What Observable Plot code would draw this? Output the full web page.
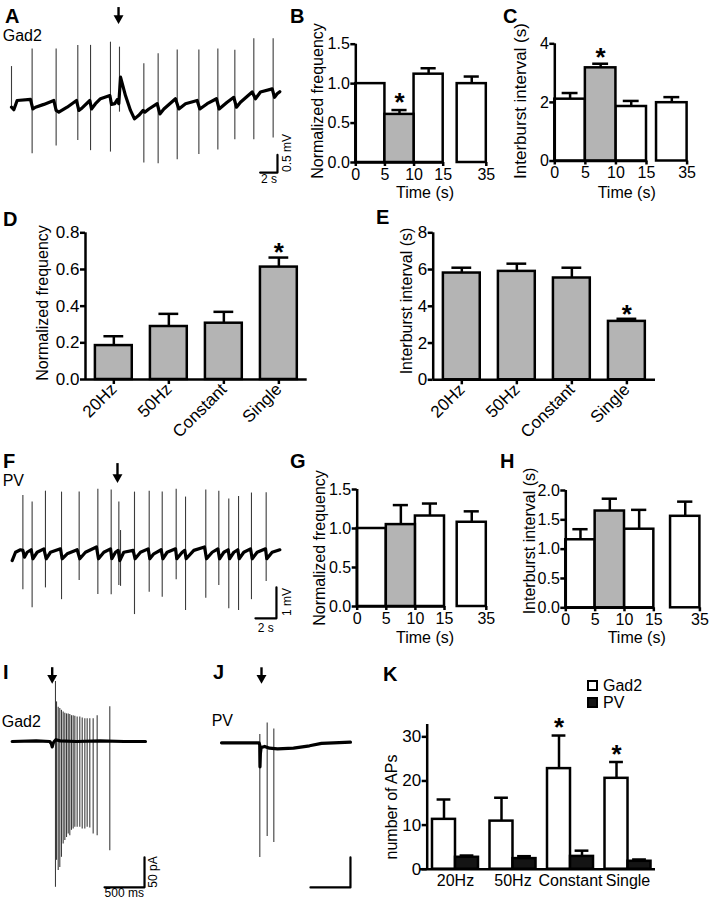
<!DOCTYPE html>
<html><head><meta charset="utf-8">
<script src="https://cdn.jsdelivr.net/npm/d3@7"></script>
<script src="https://cdn.jsdelivr.net/npm/@observablehq/plot@0.6"></script>
<style>
body{margin:0;background:#fff;}
#fig{position:relative;width:711px;height:900px;overflow:hidden;background:#fff;font-family:"Liberation Sans",Arial,sans-serif;color:#000;}
</style></head><body><div id="fig"></div>
<script>
// ---------- DATA ----------
// A: Gad2 cell-attached trace (time s, mV)
const aSpikeT = [0, 2.38, 5.15, 7.65, 9.12, 11.42, 12.46, 15.27, 16.92, 19.12, 21.62, 23.81, 25.77, 27.96, 30.19];
const aSpikeHi = [0.96, 1.46, 1.46, 1.56, 1.56, 1.65, 1.51, 1.04, 1.32, 1.43, 1.43, 1.46, 1.42, 1.75, 1.75];
const aSpikeLo = [-0.24, -1.51, -1.29, -1.13, -1.42, -1.46, -0.33, -1.77, -1.79, -1.68, -1.53, -1.40, -1.11, -1.11, -1.06];
const aBaseT = [0, 0.27, 0.65, 2.19, 2.46, 2.77, 3.73, 4.88, 5.15, 5.46, 6.42, 7.5, 7.77, 8.15, 9.04, 9.23, 9.69, 10.27, 11.35, 11.54, 11.92, 12.19, 12.38, 12.58, 13.15, 13.73, 14.19, 14.69, 15.19, 15.38, 15.85, 16.81, 17.12, 17.58, 18.92, 19.31, 20.08, 21.42, 21.73, 22.58, 23.65, 23.96, 24.88, 25.65, 25.96, 26.42, 27.77, 28.15, 28.73, 30.08, 30.35, 30.65, 30.96];
const aBaseV = [-0.19, -0.26, 0, 0.03, -0.24, -0.19, -0.11, 0, -0.28, -0.33, -0.19, 0, -0.28, -0.21, 0, -0.24, -0.09, 0.05, 0.14, -0.11, -0.09, 0.02, -0.09, 0.66, 0.14, -0.28, -0.52, -0.42, -0.28, -0.33, -0.24, -0.09, -0.38, -0.24, 0.05, -0.24, -0.09, 0, -0.24, -0.09, 0.05, -0.24, -0.05, 0.09, -0.19, -0.05, 0.24, 0.05, 0.24, 0.33, 0.09, 0.19, 0.25];
const aStim = 12.35;

// F: PV cell-attached trace (time s, mV)
const fSpikeT = [1.02, 1.90, 3.17, 4.70, 6.38, 8.16, 9.43, 10.16, 10.32, 11.65, 13.05, 14.29, 15.62, 16.51, 18.44, 19.68, 20.63, 21.56, 22.79, 24.19];
const fSpikeHi = [1.88, 1.67, 2.02, 1.99, 1.99, 2.08, 2.06, 1.67, 0.75, 1.99, 2.02, 1.99, 2.08, 1.83, 2.06, 2.02, 1.77, 1.85, 1.96, 1.97];
const fSpikeLo = [-1.16, -1.74, -1.10, -1.48, -0.86, -1.31, -1.32, -1.02, -1.05, -1.96, -1.24, -1.40, -0.84, -1.83, -1.43, -1.02, -1.77, -1.83, -1.48, -0.89];
const fBaseT = [0, 0.32, 0.79, 1.02, 1.17, 1.43, 1.81, 1.97, 2.38, 3.02, 3.24, 3.65, 4.60, 4.76, 5.24, 6.19, 6.44, 6.98, 8.03, 8.22, 8.73, 9.37, 9.49, 9.84, 10.10, 10.25, 10.63, 11.52, 11.71, 12.22, 12.95, 13.11, 13.49, 14.19, 14.35, 14.76, 15.56, 15.68, 16.19, 16.44, 16.57, 17.30, 18.32, 18.51, 19.05, 19.59, 19.75, 20.16, 20.57, 20.70, 21.11, 21.49, 21.62, 22.06, 22.70, 22.86, 23.33, 24.13, 24.25, 24.76, 25.49];
const fBaseV = [-0.22, 0.05, 0.13, 0.11, -0.11, 0.05, 0.13, -0.16, 0.05, 0.16, -0.16, 0.05, 0.16, -0.16, 0, 0.13, -0.16, 0.05, 0.22, -0.16, 0.05, 0.16, -0.16, 0.05, 0.11, -0.22, 0.05, 0.11, -0.16, 0.05, 0.16, -0.16, 0, 0.13, -0.16, 0.05, 0.16, -0.16, 0.05, 0.11, -0.16, 0.11, 0.22, -0.16, 0.05, 0.16, -0.16, 0.05, 0.13, -0.16, 0.05, 0.13, -0.16, 0.05, 0.16, -0.16, 0.05, 0.16, -0.16, 0.05, 0.13];
const fStim = 10.03;

// I: Gad2 whole-cell current (ms, pA)
const iSpikeT = [541, 554, 575, 595, 616, 637, 658, 679, 700, 720, 741, 762, 783, 812, 845, 875, 908, 937, 970, 1012, 1062, 1220];
const iSpikeHi = [100, 66, 57, 55, 52, 49, 47, 46, 46, 45, 43, 43, 42, 41, 41, 39, 38, 38, 38, 38, 43, 58];
const iSpikeLo = [-243, -198, -215, -210, -193, -171, -165, -160, -154, -157, -148, -146, -143, -143, -143, -146, -146, -143, -144, -154, -157, -182];
const iBaseT = [0, 300, 470, 490, 500, 512, 525, 545, 600, 800, 1100, 1400, 1666];
const iBaseV = [0, 1, 0, -4, -9, -3, 0, 3, 1, 0, 1, 0, 0];
const iStim = 500;

// J: PV whole-cell current (ms, pA)
const jSpikeT = [479, 571, 654];
const jSpikeHi = [14, 33, 23];
const jSpikeLo = [-191, -156, -166];
const jBaseT = [0, 470, 478, 481, 486, 495, 540, 600, 700, 900, 1100, 1250, 1400, 1612];
const jBaseV = [0, 0, -4, -40, -18, -8, -6, -9, -10, -9, -5, -1, 0, 1];
const jStim = 500;

// B, C, G, H: time bins (s)
const periodStart = [0, 5, 10, 30];
const periodEnd = [5, 10, 15, 35];
const periodStim = [false, true, false, false];
const timeTicks = [0, 5, 10, 15, 35];
const bMean = [1.0, 0.61, 1.12, 1.0];
const bSem = [0, 0.055, 0.075, 0.09];
const bStar = [null, 0.85, null, null];
const cMean = [2.11, 3.18, 1.86, 1.99];
const cSem = [0.21, 0.14, 0.19, 0.19];
const cStar = [null, 3.77, null, null];
const gMean = [1.0, 1.05, 1.16, 1.08];
const gSem = [0, 0.25, 0.16, 0.14];
const gStar = [null, null, null, null];
const hMean = [1.16, 1.65, 1.34, 1.56];
const hSem = [0.18, 0.21, 0.33, 0.25];
const hStar = [null, null, null, null];

// D, E, K: stimulation patterns
const stimPatterns = ["20Hz", "50Hz", "Constant", "Single"];
const dMean = [0.185, 0.289, 0.307, 0.613];
const dSem = [0.051, 0.069, 0.062, 0.052];
const dStar = [null, null, null, 0.73];
const eMean = [5.81, 5.90, 5.54, 3.18];
const eSem = [0.29, 0.42, 0.56, 0.14];
const eStar = [null, null, null, 3.95];
const kGad2Mean = [11.3, 10.9, 22.8, 20.6];
const kGad2Sem = [4.5, 5.3, 7.5, 3.7];
const kPvMean = [2.7, 2.4, 2.9, 1.8];
const kPvSem = [0.4, 0.55, 1.3, 0.4];
const kGad2Star = [null, null, 33.6, 27.6];

// ---------- DRAWING ----------
const fig = document.getElementById("fig");
const GREY = "#b4b4b4";
const SW = 2.5;
const FONT = "Liberation Sans, Arial, sans-serif";
const baseStyle = {background: "transparent", fontFamily: FONT, fontSize: "16px", overflow: "visible", color: "#000"};

function place(svg, left, top, w, h) {
  const d = document.createElement("div");
  d.style.cssText = `position:absolute;left:${left}px;top:${top}px;width:${w}px;height:${h}px;`;
  d.appendChild(svg);
  fig.appendChild(d);
}
function txt(s, x, y, opt = {}) {
  const d = document.createElement("div");
  d.textContent = s;
  d.style.cssText = `position:absolute;left:${x}px;top:${y}px;font-size:${opt.size || 16}px;line-height:1;white-space:nowrap;font-weight:${opt.bold ? "bold" : "normal"};`;
  if (opt.rot) d.style.transform = "translate(-50%,-50%) rotate(-90deg)";
  else if (opt.center) d.style.transform = "translateX(-50%)";
  fig.appendChild(d);
}
const zip = (T, V) => T.map((t, i) => ({t, v: V[i]}));
const spikes = (T, H, L) => T.map((t, i) => ({t, hi: H[i], lo: L[i]}));

function tracePanel(o) {
  const bar = [
    {t: o.bar.tEnd - o.bar.dt, v: o.bar.v0},
    {t: o.bar.tEnd, v: o.bar.v0},
    {t: o.bar.tEnd, v: o.bar.v0 + o.bar.dv}
  ];
  const arrow = [{t: o.arrow.t, y1: o.arrow.top, y2: o.arrow.head}];
  const svg = Plot.plot({
    width: o.w, height: o.h, margin: 0,
    x: {domain: o.xd, range: o.xr, axis: null},
    y: {domain: o.yd, range: o.yr, axis: null},
    style: baseStyle,
    marks: [
      Plot.ruleX(o.spikes, {x: "t", y1: "lo", y2: "hi", stroke: "#3c3c3c", strokeWidth: 1.1}),
      Plot.line(o.base, {x: "t", y: "v", stroke: "#000", strokeWidth: 3.2, strokeLinejoin: "round"}),
      Plot.line(bar, {x: "t", y: "v", stroke: "#000", strokeWidth: 2.2}),
      Plot.ruleX(arrow, {x: "t", y1: "y1", y2: "y2", stroke: "#000", strokeWidth: 2.4}),
      Plot.dot(arrow, {x: "t", y: "y2", symbol: "triangle", r: 3.7, rotate: 180, fill: "#000", stroke: "none"})
    ]
  });
  place(svg, o.left, o.top, o.w, o.h);
}

// Time panels: the axis is broken between 15 s and 30 s; "gap" seconds are removed
function timePanel(o) {
  const gap = o.gap;
  const disp = t => (t > 15 ? t - gap : t);
  const rows = periodStart.map((s, i) => ({x1: disp(s), x2: disp(periodEnd[i]), mid: (disp(s) + disp(periodEnd[i])) / 2, m: o.mean[i], top: o.mean[i] + o.sem[i], sem: o.sem[i], stim: periodStim[i], star: o.star[i]}));
  const err = rows.filter(r => r.sem > 0);
  const stars = rows.filter(r => r.star != null);
  const svg = Plot.plot({
    width: o.w, height: o.h,
    marginLeft: o.ml, marginRight: o.mr, marginTop: o.mt, marginBottom: o.mb,
    x: {domain: [0, disp(35)]},
    y: {domain: [0, o.yMax]},
    style: baseStyle,
    marks: [
      Plot.rect(rows.filter(r => !r.stim), {x1: "x1", x2: "x2", y1: 0, y2: "m", fill: "white", stroke: "#000", strokeWidth: SW}),
      Plot.rect(rows.filter(r => r.stim), {x1: "x1", x2: "x2", y1: 0, y2: "m", fill: GREY, stroke: "#000", strokeWidth: SW}),
      Plot.ruleX(err, {x: "mid", y1: "m", y2: "top", stroke: "#000", strokeWidth: SW}),
      Plot.ruleY(err, {y: "top", x1: r => r.mid - 1.3, x2: r => r.mid + 1.3, stroke: "#000", strokeWidth: SW}),
      Plot.ruleY([0], {x1: 0, x2: 15, stroke: "#000", strokeWidth: SW}),
      Plot.ruleX([0], {y1: 0, y2: o.yMax, stroke: "#000", strokeWidth: SW}),
      Plot.axisX({ticks: timeTicks.map(disp), tickFormat: d => String(Math.round(d > 15 ? d + gap : d)), tickSize: 4, tickPadding: 2, strokeWidth: SW, label: null}),
      Plot.axisY({ticks: o.yTicks, tickFormat: o.fmt, tickSize: 5, tickPadding: 1, strokeWidth: SW, label: null}),
      Plot.text(stars, {x: "mid", y: "star", text: () => "*", fontSize: 26, fontWeight: "bold", dy: 7})
    ]
  });
  place(svg, o.left, o.top, o.w, o.h);
}

function catPanel(o) {
  const rows = stimPatterns.map((c, i) => ({i, m: o.mean[i], top: o.mean[i] + o.sem[i], star: o.star[i]}));
  const stars = rows.filter(r => r.star != null);
  const svg = Plot.plot({
    width: o.w, height: o.h,
    marginLeft: o.ml, marginRight: o.mr, marginTop: o.mt, marginBottom: o.mb,
    x: {domain: o.xd},
    y: {domain: [0, o.yMax]},
    style: baseStyle,
    marks: [
      Plot.ruleX(rows, {x: "i", y1: "m", y2: "top", stroke: "#000", strokeWidth: SW}),
      Plot.ruleY(rows, {y: "top", x1: r => r.i - 0.18, x2: r => r.i + 0.18, stroke: "#000", strokeWidth: SW}),
      Plot.rect(rows, {x1: r => r.i - 0.335, x2: r => r.i + 0.335, y1: 0, y2: "m", fill: GREY, stroke: "#000", strokeWidth: SW}),
      Plot.ruleY([0], {stroke: "#000", strokeWidth: SW}),
      Plot.ruleX([o.xd[0]], {y1: 0, y2: o.yMax, stroke: "#000", strokeWidth: SW}),
      Plot.axisX({ticks: [0, 1, 2, 3], tickFormat: i => stimPatterns[i], tickRotate: -45, tickSize: 5, tickPadding: 2, strokeWidth: SW, fontSize: 17, label: null}),
      Plot.axisY({ticks: o.yTicks, tickFormat: o.fmt, tickSize: 5, tickPadding: 1, strokeWidth: SW, fontSize: 17, label: null}),
      Plot.text(stars, {x: "i", y: "star", text: () => "*", fontSize: 26, fontWeight: "bold", dy: 7})
    ]
  });
  place(svg, o.left, o.top, o.w, o.h);
}

// ---- A ----
tracePanel({left: 0, top: 0, w: 300, h: 190,
  xd: [0, 30], xr: [11, 271], yd: [-2, 2], yr: [170.67, 29.33],
  base: zip(aBaseT, aBaseV), spikes: spikes(aSpikeT, aSpikeHi, aSpikeLo),
  bar: {tEnd: 30.69, dt: 2, v0: -2.04, dv: 0.5},
  arrow: {t: aStim, top: 2.63, head: 2.33}});
// ---- F ----
tracePanel({left: 0, top: 450, w: 300, h: 190,
  xd: [0, 20], xr: [11.67, 221.67], yd: [-2, 2], yr: [165.3, 41.3],
  base: zip(fBaseT, fBaseV), spikes: spikes(fSpikeT, fSpikeHi, fSpikeLo),
  bar: {tEnd: 25.17, dt: 2, v0: -2.08, dv: 1},
  arrow: {t: fStim, top: 2.91, head: 2.47}});
// ---- I ----
tracePanel({left: 0, top: 660, w: 175, h: 240,
  xd: [0, 1000], xr: [11.7, 91.7], yd: [-100, 100], yr: [141, 21],
  base: zip(iBaseT, iBaseV), spikes: spikes(iSpikeT, iSpikeHi, iSpikeLo),
  bar: {tEnd: 1654, dt: 500, v0: -243, dv: 50},
  arrow: {t: iStim, top: 123, head: 106}});
// ---- J ----
tracePanel({left: 210, top: 660, w: 160, h: 240,
  xd: [0, 1000], xr: [11, 91], yd: [-100, 100], yr: [142.3, 22.3],
  base: zip(jBaseT, jBaseV), spikes: spikes(jSpikeT, jSpikeHi, jSpikeLo),
  bar: {tEnd: 1612, dt: 500, v0: -241, dv: 50},
  arrow: {t: jStim, top: 125, head: 108}});

const f1 = d3.format(".1f"), f0 = d3.format("d");
// ---- B ----
timePanel({left: 290, top: 0, w: 210, h: 205, ml: 65.3, mr: 14.2, mt: 43.7, mb: 43, gap: 12.6,
  mean: bMean, sem: bSem, star: bStar, yMax: 1.5, yTicks: [0, 0.5, 1, 1.5], fmt: f1});
// ---- C ----
timePanel({left: 500, top: 0, w: 210, h: 205, ml: 54.3, mr: 23.4, mt: 43.3, mb: 44.5, gap: 13.36,
  mean: cMean, sem: cSem, star: cStar, yMax: 4, yTicks: [0, 2, 4], fmt: f0});
// ---- G ----
timePanel({left: 290, top: 450, w: 210, h: 200, ml: 66.7, mr: 14.2, mt: 39, mb: 44, gap: 12.82,
  mean: gMean, sem: gSem, star: gStar, yMax: 1.5, yTicks: [0, 0.5, 1, 1.5], fmt: f1});
// ---- H ----
timePanel({left: 500, top: 450, w: 211, h: 200, ml: 65.3, mr: 11.6, mt: 40, mb: 42.7, gap: 12.15,
  mean: hMean, sem: hSem, star: hStar, yMax: 2, yTicks: [0, 0.5, 1, 1.5, 2], fmt: f1});
// ---- D ----
catPanel({left: 0, top: 190, w: 320, h: 265, ml: 85, mr: 13.3, mt: 42.3, mb: 76, xd: [-0.515, 3.515],
  mean: dMean, sem: dSem, star: dStar, yMax: 0.8, yTicks: [0, 0.2, 0.4, 0.6, 0.8], fmt: f1});
// ---- E ----
catPanel({left: 360, top: 190, w: 320, h: 265, ml: 72.7, mr: 25, mt: 42.3, mb: 75.7, xd: [-0.52, 3.52],
  mean: eMean, sem: eSem, star: eStar, yMax: 8, yTicks: [0, 2, 4, 6, 8], fmt: f0});

// ---- K ----
{
  const rows = stimPatterns.map((c, i) => ({i, g: kGad2Mean[i], gt: kGad2Mean[i] + kGad2Sem[i], p: kPvMean[i], pt: kPvMean[i] + kPvSem[i], star: kGad2Star[i]}));
  const stars = rows.filter(r => r.star != null);
  const yTop = 32.8;
  const svg = Plot.plot({
    width: 300, height: 260, marginLeft: 46.7, marginRight: 25, marginTop: 84, marginBottom: 31.3,
    x: {domain: [-0.492, 3.478]},
    y: {domain: [0, yTop]},
    style: baseStyle,
    marks: [
      Plot.ruleX(rows, {x: r => r.i - 0.2, y1: "g", y2: "gt", stroke: "#000", strokeWidth: SW}),
      Plot.ruleY(rows, {y: "gt", x1: r => r.i - 0.32, x2: r => r.i - 0.08, stroke: "#000", strokeWidth: SW}),
      Plot.ruleX(rows, {x: r => r.i + 0.2, y1: "p", y2: "pt", stroke: "#000", strokeWidth: SW}),
      Plot.ruleY(rows, {y: "pt", x1: r => r.i + 0.08, x2: r => r.i + 0.32, stroke: "#000", strokeWidth: SW}),
      Plot.rect(rows, {x1: r => r.i - 0.4, x2: r => r.i, y1: 0, y2: "g", fill: "white", stroke: "#000", strokeWidth: SW}),
      Plot.rect(rows, {x1: r => r.i, x2: r => r.i + 0.4, y1: 0, y2: "p", fill: "#141414", stroke: "#000", strokeWidth: SW}),
      Plot.ruleY([0], {x1: -0.609, x2: 3.478, stroke: "#000", strokeWidth: SW}),
      Plot.ruleX([-0.492], {y1: 0, y2: yTop, stroke: "#000", strokeWidth: SW}),
      Plot.axisX({ticks: [0, 1, 2, 3], tickFormat: i => stimPatterns[i], tickSize: 0, tickPadding: 5, fontSize: 16, label: null}),
      Plot.axisY({ticks: [0, 10, 20, 30], tickSize: 5, tickPadding: 1, strokeWidth: SW, fontSize: 17, label: null}),
      Plot.text(stars, {x: r => r.i - 0.2, y: "star", text: () => "*", fontSize: 26, fontWeight: "bold", dy: 7})
    ]
  });
  place(svg, 380, 640, 300, 260);
}

// ---------- TEXT ----------
const letters = [["A", 5, 6], ["B", 290, 5.5], ["C", 503, 5.5], ["D", 3, 208.7], ["E", 376, 207.4], ["F", 3, 450.7],
  ["G", 290, 450.7], ["H", 500, 450.7], ["I", 3, 662.4], ["J", 213, 662.4], ["K", 383, 664]];
letters.forEach(([s, x, y]) => txt(s, x, y, {size: 20, bold: true}));

txt("Gad2", 2.7, 27.5);
txt("PV", 2.7, 473);
txt("Gad2", 1.7, 713.8);
txt("PV", 211.7, 713);

// scale bar labels
txt("2 s", 269, 172.5, {size: 12, center: true});
txt("0.5 mV", 287, 152.7, {size: 12, rot: true});
txt("2 s", 265.7, 621.5, {size: 12, center: true});
txt("1 mV", 286.7, 601.5, {size: 12, rot: true});
txt("500 ms", 124.3, 887, {size: 12, center: true});
txt("50 pA", 153.3, 871.7, {size: 12, rot: true});

// axis titles
txt("Normalized frequency", 318, 101, {rot: true});
txt("Interburst interval (s)", 520, 100.8, {rot: true, size: 17});
txt("Normalized frequency", 43.3, 302.5, {rot: true});
txt("Interburst interval (s)", 406.7, 300.8, {rot: true});
txt("Normalized frequency", 320, 547.5, {rot: true});
txt("Interburst interval (s)", 530, 540.8, {rot: true});
txt("number of APs", 391.7, 806.7, {rot: true});
txt("Time (s)", 425, 185, {center: true});
txt("Time (s)", 626.7, 185, {center: true});
txt("Time (s)", 425, 629.5, {center: true});
txt("Time (s)", 636.7, 629.5, {center: true});

// K legend
const legendItems = [["Gad2", "#fff", 680], ["PV", "#141414", 697]];
legendItems.forEach(([name, col, y]) => {
  const sq = document.createElement("div");
  sq.style.cssText = `position:absolute;left:587px;top:${y}px;width:11px;height:11px;box-sizing:border-box;border:2px solid #000;background:${col};`;
  fig.appendChild(sq);
  txt(name, 603, y - 2);
});
</script></body></html>
